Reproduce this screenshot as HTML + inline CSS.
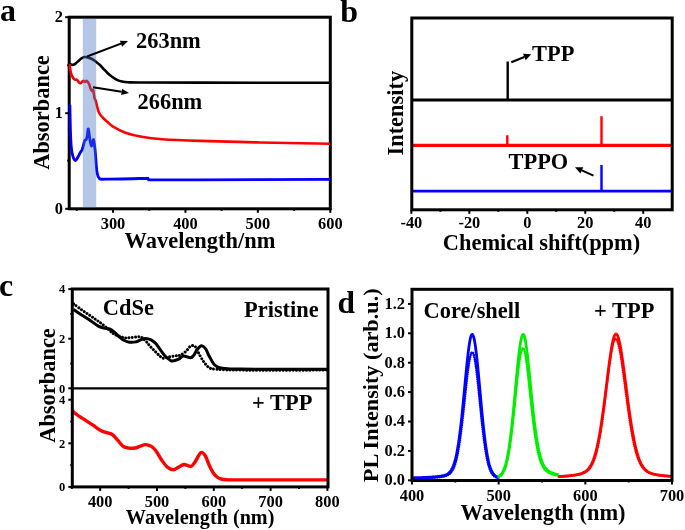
<!DOCTYPE html>
<html><head><meta charset="utf-8"><style>
html,body{margin:0;padding:0;background:#fff;width:685px;height:530px;overflow:hidden}
svg{display:block;will-change:transform}
text{font-family:"Liberation Serif",serif;font-weight:bold;fill:#000}
</style></head><body>
<svg width="685" height="530" viewBox="0 0 685 530">
<rect width="685" height="530" fill="#fff"/>
<text transform="translate(0 20.5) scale(1 1)" font-size="32" text-anchor="start">a</text>
<rect x="69.2" y="17.2" width="261.1" height="191.60000000000002" fill="none" stroke="#000" stroke-width="3"/>
<path d="M69.50,63.50 C69.78,63.68 70.58,64.38 71.20,64.60 C71.82,64.82 72.48,64.97 73.20,64.80 C73.92,64.63 74.62,64.23 75.50,63.60 C76.38,62.97 77.50,61.87 78.50,61.00 C79.50,60.13 80.50,59.07 81.50,58.40 C82.50,57.73 83.42,57.17 84.50,57.00 C85.58,56.83 86.75,57.07 88.00,57.40 C89.25,57.73 90.67,58.27 92.00,59.00 C93.33,59.73 94.67,60.80 96.00,61.80 C97.33,62.80 98.75,63.83 100.00,65.00 C101.25,66.17 102.25,67.47 103.50,68.80 C104.75,70.13 106.08,71.68 107.50,73.00 C108.92,74.32 110.42,75.57 112.00,76.70 C113.58,77.83 115.33,79.00 117.00,79.80 C118.67,80.60 120.17,81.08 122.00,81.50 C123.83,81.92 125.00,82.13 128.00,82.30 C131.00,82.47 128.00,82.45 140.00,82.50 C152.00,82.55 168.33,82.55 200.00,82.60 C231.67,82.65 308.33,82.77 330.00,82.80" fill="none" stroke="#000" stroke-width="2.6"/>
<path d="M69.50,64.00 C69.78,65.67 70.40,71.45 71.20,74.00 C72.00,76.55 73.33,78.33 74.30,79.30 C75.27,80.27 76.25,79.30 77.00,79.80 C77.75,80.30 78.20,81.72 78.80,82.30 C79.40,82.88 80.02,83.42 80.60,83.30 C81.18,83.18 81.82,82.00 82.30,81.60 C82.78,81.20 83.05,80.85 83.50,80.90 C83.95,80.95 84.48,81.90 85.00,81.90 C85.52,81.90 86.12,80.85 86.60,80.90 C87.08,80.95 87.47,81.65 87.90,82.20 C88.33,82.75 88.75,83.10 89.20,84.20 C89.65,85.30 90.15,87.70 90.60,88.80 C91.05,89.90 91.47,90.55 91.90,90.80 C92.33,91.05 92.77,89.10 93.20,90.30 C93.63,91.50 94.07,96.22 94.50,98.00 C94.93,99.78 95.08,98.62 95.80,101.00 C96.52,103.38 97.63,109.53 98.80,112.30 C99.97,115.07 101.43,116.07 102.80,117.60 C104.17,119.13 105.28,120.00 107.00,121.50 C108.72,123.00 110.03,124.73 113.10,126.60 C116.17,128.47 120.62,131.00 125.40,132.70 C130.18,134.40 135.67,135.72 141.80,136.80 C147.93,137.88 152.50,138.52 162.20,139.20 C171.90,139.88 183.70,140.35 200.00,140.90 C216.30,141.45 238.33,142.03 260.00,142.50 C281.67,142.97 318.33,143.50 330.00,143.70" fill="none" stroke="#ff0000" stroke-width="2.6"/>
<path d="M69.90,104.80 C69.98,108.83 70.18,122.13 70.40,129.00 C70.62,135.87 70.80,141.50 71.20,146.00 C71.60,150.50 72.07,153.58 72.80,156.00 C73.53,158.42 74.70,160.42 75.60,160.50 C76.50,160.58 77.42,157.83 78.20,156.50 C78.98,155.17 79.63,153.67 80.30,152.50 C80.97,151.33 81.65,150.83 82.20,149.50 C82.75,148.17 83.17,146.03 83.60,144.50 C84.03,142.97 84.35,141.13 84.80,140.30 C85.25,139.47 85.87,140.38 86.30,139.50 C86.73,138.62 87.05,136.75 87.40,135.00 C87.75,133.25 87.95,128.02 88.40,129.00 C88.85,129.98 89.53,138.07 90.10,140.90 C90.67,143.73 91.23,146.22 91.80,146.00 C92.37,145.78 92.93,138.75 93.50,139.60 C94.07,140.45 94.63,145.78 95.20,151.10 C95.77,156.42 96.20,166.97 96.90,171.50 C97.60,176.03 97.85,177.02 99.40,178.30 C100.95,179.58 98.12,179.20 106.20,179.20 C114.28,179.20 140.95,178.45 147.90,178.30 L148.6,179.9 L200,179.9 L330,179.4" fill="none" stroke="#0000ff" stroke-width="2.8"/>
<rect x="82.8" y="18.7" width="13.4" height="188.60000000000002" fill="#4472c4" fill-opacity="0.4"/>
<line x1="69.2" y1="208.8" x2="65.2" y2="208.8" stroke="#000" stroke-width="2"/>
<text transform="translate(63 213.70000000000002) scale(1 1.03)" font-size="16.4" text-anchor="end">0</text>
<line x1="69.2" y1="113.2" x2="65.2" y2="113.2" stroke="#000" stroke-width="2"/>
<text transform="translate(63 118.10000000000001) scale(1 1.03)" font-size="16.4" text-anchor="end">1</text>
<line x1="69.2" y1="17.2" x2="65.2" y2="17.2" stroke="#000" stroke-width="2"/>
<text transform="translate(63 22.1) scale(1 1.03)" font-size="16.4" text-anchor="end">2</text>
<line x1="69.2" y1="65.3" x2="67.2" y2="65.3" stroke="#000" stroke-width="2"/>
<line x1="69.2" y1="160.6" x2="67.2" y2="160.6" stroke="#000" stroke-width="2"/>
<line x1="113.0" y1="208.8" x2="113.0" y2="212.8" stroke="#000" stroke-width="2"/>
<text transform="translate(113.0 228.5) scale(1 1.03)" font-size="16.4" text-anchor="middle">300</text>
<line x1="185.43" y1="208.8" x2="185.43" y2="212.8" stroke="#000" stroke-width="2"/>
<text transform="translate(185.43 228.5) scale(1 1.03)" font-size="16.4" text-anchor="middle">400</text>
<line x1="257.86" y1="208.8" x2="257.86" y2="212.8" stroke="#000" stroke-width="2"/>
<text transform="translate(257.86 228.5) scale(1 1.03)" font-size="16.4" text-anchor="middle">500</text>
<line x1="330.29" y1="208.8" x2="330.29" y2="212.8" stroke="#000" stroke-width="2"/>
<text transform="translate(330.29 228.5) scale(1 1.03)" font-size="16.4" text-anchor="middle">600</text>
<line x1="76.785" y1="208.8" x2="76.785" y2="210.8" stroke="#000" stroke-width="2"/>
<line x1="149.215" y1="208.8" x2="149.215" y2="210.8" stroke="#000" stroke-width="2"/>
<line x1="221.645" y1="208.8" x2="221.645" y2="210.8" stroke="#000" stroke-width="2"/>
<line x1="294.07500000000005" y1="208.8" x2="294.07500000000005" y2="210.8" stroke="#000" stroke-width="2"/>
<text transform="translate(200 248.2) scale(1.02 1.07)" font-size="22" text-anchor="middle">Wavelength/nm</text>
<text transform="translate(48.5 112.5) rotate(-90) scale(1.02 1.07)" font-size="22" text-anchor="middle">Absorbance</text>
<line x1="87" y1="56.5" x2="120.98" y2="43.65" stroke="#000" stroke-width="2"/>
<polygon points="128,41 122.12,46.65 119.85,40.66" fill="#000"/>
<line x1="93" y1="87.3" x2="121.59" y2="91.83" stroke="#000" stroke-width="2"/>
<polygon points="129,93 121.09,94.99 122.09,88.67" fill="#000"/>
<text transform="translate(136 48.3) scale(1.02 1.07)" font-size="22" text-anchor="start">263nm</text>
<text transform="translate(137.5 109.3) scale(1.02 1.07)" font-size="22" text-anchor="start">266nm</text>
<text transform="translate(340.2 21.5) scale(1 1)" font-size="32" text-anchor="start">b</text>
<path d="M411.8,100 L672.2,100" fill="none" stroke="#000" stroke-width="3"/><path d="M507.7,100 L507.7,61.5" fill="none" stroke="#000" stroke-width="2.4"/>
<path d="M411.8,145.3 L672.2,145.3" fill="none" stroke="#ff0000" stroke-width="3.2"/><path d="M507.3,145.3 L507.3,135.2 M601.5,145.3 L601.5,116.3" fill="none" stroke="#ff0000" stroke-width="2.4"/>
<path d="M411.8,191.1 L672.2,191.1" fill="none" stroke="#0000ff" stroke-width="2.8"/><path d="M601.5,191.1 L601.5,165" fill="none" stroke="#0000ff" stroke-width="2.4"/>
<rect x="411.8" y="18" width="260.40000000000003" height="191.8" fill="none" stroke="#000" stroke-width="3"/>
<line x1="411.37999999999994" y1="209.8" x2="411.37999999999994" y2="213.8" stroke="#000" stroke-width="2"/>
<text transform="translate(411.37999999999994 228) scale(1 1.03)" font-size="16.4" text-anchor="middle">-40</text>
<line x1="469.34" y1="209.8" x2="469.34" y2="213.8" stroke="#000" stroke-width="2"/>
<text transform="translate(469.34 228) scale(1 1.03)" font-size="16.4" text-anchor="middle">-20</text>
<line x1="527.3" y1="209.8" x2="527.3" y2="213.8" stroke="#000" stroke-width="2"/>
<text transform="translate(527.3 228) scale(1 1.03)" font-size="16.4" text-anchor="middle">0</text>
<line x1="585.26" y1="209.8" x2="585.26" y2="213.8" stroke="#000" stroke-width="2"/>
<text transform="translate(585.26 228) scale(1 1.03)" font-size="16.4" text-anchor="middle">20</text>
<line x1="643.2199999999999" y1="209.8" x2="643.2199999999999" y2="213.8" stroke="#000" stroke-width="2"/>
<text transform="translate(643.2199999999999 228) scale(1 1.03)" font-size="16.4" text-anchor="middle">40</text>
<line x1="440.35999999999996" y1="209.8" x2="440.35999999999996" y2="211.8" stroke="#000" stroke-width="2"/>
<line x1="498.31999999999994" y1="209.8" x2="498.31999999999994" y2="211.8" stroke="#000" stroke-width="2"/>
<line x1="556.28" y1="209.8" x2="556.28" y2="211.8" stroke="#000" stroke-width="2"/>
<line x1="614.24" y1="209.8" x2="614.24" y2="211.8" stroke="#000" stroke-width="2"/>
<text transform="translate(541.5 249.5) scale(1.02 1.07)" font-size="22" text-anchor="middle">Chemical shift(ppm)</text>
<text transform="translate(403 113.2) rotate(-90) scale(1.02 1.07)" font-size="22" text-anchor="middle">Intensity</text>
<line x1="511.3" y1="62.2" x2="524.34" y2="56.99" stroke="#000" stroke-width="2"/>
<polygon points="531.3,54.2 525.64,60.24 523.04,53.74" fill="#000"/>
<text transform="translate(532 60.7) scale(1.02 1.07)" font-size="22" text-anchor="start">TPP</text>
<line x1="593.5" y1="175.7" x2="581.82" y2="170.33" stroke="#000" stroke-width="2"/>
<polygon points="575,167.2 583.28,167.15 580.35,173.51" fill="#000"/>
<text transform="translate(508.5 168.6) scale(1.02 1.07)" font-size="22" text-anchor="start">TPPO</text>
<text transform="translate(-1 296) scale(1 1)" font-size="32" text-anchor="start">c</text>
<path d="M73.50,303.80 C74.80,304.77 78.73,307.77 81.30,309.60 C83.87,311.43 86.38,313.07 88.90,314.80 C91.42,316.53 94.05,318.35 96.40,320.00 C98.75,321.65 100.80,322.97 103.00,324.70 C105.20,326.43 107.87,328.90 109.60,330.40 C111.33,331.90 111.83,332.73 113.40,333.70 C114.97,334.67 116.95,335.50 119.00,336.20 C121.05,336.90 123.65,337.68 125.70,337.90 C127.75,338.12 129.10,337.68 131.30,337.50 C133.50,337.32 137.02,336.73 138.90,336.80 C140.78,336.87 141.35,337.08 142.60,337.90 C143.85,338.72 145.13,340.28 146.40,341.70 C147.67,343.12 148.78,344.83 150.20,346.40 C151.62,347.97 153.33,349.53 154.90,351.10 C156.47,352.67 158.18,354.62 159.60,355.80 C161.02,356.98 161.83,358.03 163.40,358.20 C164.97,358.37 166.80,357.20 169.00,356.80 C171.20,356.40 174.77,356.07 176.60,355.80 C178.43,355.53 178.48,355.90 180.00,355.20 C181.52,354.50 183.97,353.07 185.70,351.60 C187.43,350.13 188.85,347.27 190.40,346.40 C191.95,345.53 193.45,344.95 195.00,346.40 C196.55,347.85 198.13,352.38 199.70,355.10 C201.27,357.82 202.85,360.65 204.40,362.70 C205.95,364.75 207.25,366.33 209.00,367.40 C210.75,368.47 209.73,368.65 214.90,369.10 C220.07,369.55 221.15,369.93 240.00,370.10 C258.85,370.27 313.33,370.10 328.00,370.10" fill="none" stroke="#000" stroke-width="3" stroke-linecap="round" stroke-dasharray="0.01 3.3"/>
<path d="M73.50,309.40 C74.48,310.07 76.83,311.72 79.40,313.40 C81.97,315.08 85.75,317.38 88.90,319.50 C92.05,321.62 95.78,324.68 98.30,326.10 C100.82,327.52 102.12,327.52 104.00,328.00 C105.88,328.48 108.03,328.45 109.60,329.00 C111.17,329.55 111.83,330.05 113.40,331.30 C114.97,332.55 117.27,335.00 119.00,336.50 C120.73,338.00 122.07,339.35 123.80,340.30 C125.53,341.25 127.37,341.93 129.40,342.20 C131.43,342.47 134.10,342.30 136.00,341.90 C137.90,341.50 139.22,340.38 140.80,339.80 C142.38,339.22 143.78,338.40 145.50,338.40 C147.22,338.40 149.38,338.93 151.10,339.80 C152.82,340.67 154.22,341.87 155.80,343.60 C157.38,345.33 159.02,348.08 160.60,350.20 C162.18,352.32 163.73,354.65 165.30,356.30 C166.87,357.95 168.75,359.32 170.00,360.10 C171.25,360.88 171.35,361.15 172.80,361.00 C174.25,360.85 176.93,360.05 178.70,359.20 C180.47,358.35 181.45,356.13 183.40,355.90 C185.35,355.67 188.65,357.93 190.40,357.80 C192.15,357.67 192.73,356.52 193.90,355.10 C195.07,353.68 196.13,350.85 197.40,349.30 C198.67,347.75 200.15,345.90 201.50,345.80 C202.85,345.70 204.25,347.05 205.50,348.70 C206.75,350.35 207.63,353.17 209.00,355.70 C210.37,358.23 212.13,361.95 213.70,363.90 C215.27,365.85 216.45,366.63 218.40,367.40 C220.35,368.17 221.80,368.22 225.40,368.50 C229.00,368.78 222.90,368.97 240.00,369.10 C257.10,369.23 313.33,369.27 328.00,369.30" fill="none" stroke="#000" stroke-width="3"/>
<path d="M72.80,410.00 C72.90,410.32 71.98,410.63 73.40,411.90 C74.82,413.17 78.10,415.43 81.30,417.60 C84.50,419.77 89.20,422.65 92.60,424.90 C96.00,427.15 98.87,429.68 101.70,431.10 C104.53,432.52 107.72,432.73 109.60,433.40 C111.48,434.07 111.67,433.97 113.00,435.10 C114.33,436.23 115.90,438.32 117.60,440.20 C119.30,442.08 121.32,445.08 123.20,446.40 C125.08,447.72 126.93,447.83 128.90,448.10 C130.87,448.37 133.20,448.28 135.00,448.00 C136.80,447.72 137.95,446.97 139.70,446.40 C141.45,445.83 143.55,444.60 145.50,444.60 C147.45,444.60 149.65,445.33 151.40,446.40 C153.15,447.47 154.25,448.67 156.00,451.00 C157.75,453.33 159.95,457.67 161.90,460.40 C163.85,463.13 165.77,465.85 167.70,467.40 C169.63,468.95 171.75,469.70 173.50,469.70 C175.25,469.70 176.43,468.27 178.20,467.40 C179.97,466.53 182.00,464.67 184.10,464.50 C186.20,464.33 188.98,466.82 190.80,466.40 C192.62,465.98 193.33,464.30 195.00,462.00 C196.67,459.70 199.12,453.68 200.80,452.60 C202.48,451.52 203.62,453.23 205.10,455.50 C206.58,457.77 208.35,463.32 209.70,466.20 C211.05,469.08 211.98,471.00 213.20,472.80 C214.42,474.60 215.70,475.97 217.00,477.00 C218.30,478.03 219.33,478.53 221.00,479.00 C222.67,479.47 223.83,479.65 227.00,479.80 C230.17,479.95 223.17,479.88 240.00,479.90 C256.83,479.92 313.33,479.90 328.00,479.90" fill="none" stroke="#ff0000" stroke-width="3.4"/>
<rect x="72.3" y="289" width="255.7" height="197.89999999999998" fill="none" stroke="#000" stroke-width="3"/>
<line x1="72.3" y1="388.3" x2="328" y2="388.3" stroke="#000" stroke-width="2.2"/>
<line x1="72.3" y1="388.3" x2="68.3" y2="388.3" stroke="#000" stroke-width="2"/>
<text transform="translate(65.3 392.5) scale(1 1.07)" font-size="12.5" text-anchor="end">0</text>
<line x1="72.3" y1="338.7" x2="68.3" y2="338.7" stroke="#000" stroke-width="2"/>
<text transform="translate(65.3 342.9) scale(1 1.07)" font-size="12.5" text-anchor="end">2</text>
<line x1="72.3" y1="289.1" x2="68.3" y2="289.1" stroke="#000" stroke-width="2"/>
<text transform="translate(65.3 293.3) scale(1 1.07)" font-size="12.5" text-anchor="end">4</text>
<line x1="72.3" y1="363.5" x2="70.3" y2="363.5" stroke="#000" stroke-width="2"/>
<line x1="72.3" y1="313.9" x2="70.3" y2="313.9" stroke="#000" stroke-width="2"/>
<line x1="72.3" y1="486.9" x2="68.3" y2="486.9" stroke="#000" stroke-width="2"/>
<text transform="translate(65.3 491.09999999999997) scale(1 1.07)" font-size="12.5" text-anchor="end">0</text>
<line x1="72.3" y1="443.29999999999995" x2="68.3" y2="443.29999999999995" stroke="#000" stroke-width="2"/>
<text transform="translate(65.3 447.49999999999994) scale(1 1.07)" font-size="12.5" text-anchor="end">2</text>
<line x1="72.3" y1="399.7" x2="68.3" y2="399.7" stroke="#000" stroke-width="2"/>
<text transform="translate(65.3 403.9) scale(1 1.07)" font-size="12.5" text-anchor="end">4</text>
<line x1="72.3" y1="465.09999999999997" x2="70.3" y2="465.09999999999997" stroke="#000" stroke-width="2"/>
<line x1="72.3" y1="421.5" x2="70.3" y2="421.5" stroke="#000" stroke-width="2"/>
<line x1="100.2" y1="486.9" x2="100.2" y2="490.9" stroke="#000" stroke-width="2"/>
<text transform="translate(100.2 506.6) scale(1 1.03)" font-size="16.4" text-anchor="middle">400</text>
<line x1="157.0" y1="486.9" x2="157.0" y2="490.9" stroke="#000" stroke-width="2"/>
<text transform="translate(157.0 506.6) scale(1 1.03)" font-size="16.4" text-anchor="middle">500</text>
<line x1="213.8" y1="486.9" x2="213.8" y2="490.9" stroke="#000" stroke-width="2"/>
<text transform="translate(213.8 506.6) scale(1 1.03)" font-size="16.4" text-anchor="middle">600</text>
<line x1="270.59999999999997" y1="486.9" x2="270.59999999999997" y2="490.9" stroke="#000" stroke-width="2"/>
<text transform="translate(270.59999999999997 506.6) scale(1 1.03)" font-size="16.4" text-anchor="middle">700</text>
<line x1="327.4" y1="486.9" x2="327.4" y2="490.9" stroke="#000" stroke-width="2"/>
<text transform="translate(327.4 506.6) scale(1 1.03)" font-size="16.4" text-anchor="middle">800</text>
<line x1="71.80000000000001" y1="486.9" x2="71.80000000000001" y2="488.9" stroke="#000" stroke-width="2"/>
<line x1="128.6" y1="486.9" x2="128.6" y2="488.9" stroke="#000" stroke-width="2"/>
<line x1="185.39999999999998" y1="486.9" x2="185.39999999999998" y2="488.9" stroke="#000" stroke-width="2"/>
<line x1="242.2" y1="486.9" x2="242.2" y2="488.9" stroke="#000" stroke-width="2"/>
<line x1="299.0" y1="486.9" x2="299.0" y2="488.9" stroke="#000" stroke-width="2"/>
<text transform="translate(200.1 523.6) scale(1.02 1.07)" font-size="19.8" text-anchor="middle">Wavelength (nm)</text>
<text transform="translate(55 385.5) rotate(-90) scale(1.02 1.07)" font-size="22" text-anchor="middle">Absorbance</text>
<text transform="translate(102.8 314.7) scale(1.02 1.07)" font-size="22" text-anchor="start">CdSe</text>
<text transform="translate(244 317.2) scale(1.02 1.07)" font-size="22" text-anchor="start">Pristine</text>
<text transform="translate(252 409.5) scale(1.02 1.07)" font-size="22" text-anchor="start">+ TPP</text>
<text transform="translate(337.6 313.2) scale(0.98 1)" font-size="32" text-anchor="start">d</text>
<path d="M413.00,477.80 L413.50,477.78 L414.00,477.77 L414.50,477.76 L415.00,477.75 L415.50,477.73 L416.00,477.72 L416.50,477.71 L417.00,477.69 L417.50,477.68 L418.00,477.66 L418.50,477.65 L419.00,477.63 L419.50,477.62 L420.00,477.60 L420.50,477.58 L421.00,477.57 L421.50,477.55 L422.00,477.53 L422.50,477.51 L423.00,477.49 L423.50,477.47 L424.00,477.45 L424.50,477.43 L425.00,477.41 L425.50,477.38 L426.00,477.36 L426.50,477.34 L427.00,477.31 L427.50,477.29 L428.00,477.26 L428.50,477.23 L429.00,477.21 L429.50,477.18 L430.00,477.15 L430.50,477.11 L431.00,477.08 L431.50,477.05 L432.00,477.01 L432.50,476.98 L433.00,476.94 L433.50,476.90 L434.00,476.86 L434.50,476.82 L435.00,476.78 L435.50,476.73 L436.00,476.69 L436.50,476.64 L437.00,476.59 L437.50,476.53 L438.00,476.48 L438.50,476.42 L439.00,476.35 L439.50,476.29 L440.00,476.22 L440.50,476.14 L441.00,476.06 L441.50,475.98 L442.00,475.88 L442.50,475.78 L443.00,475.67 L443.50,475.55 L444.00,475.42 L444.50,475.27 L445.00,475.11 L445.50,474.93 L446.00,474.72 L446.50,474.49 L447.00,474.23 L447.50,473.94 L448.00,473.61 L448.50,473.24 L449.00,472.81 L449.50,472.33 L450.00,471.79 L450.50,471.17 L451.00,470.47 L451.50,469.69 L452.00,468.80 L452.50,467.80 L453.00,466.68 L453.50,465.43 L454.00,464.03 L454.50,462.47 L455.00,460.75 L455.50,458.85 L456.00,456.76 L456.50,454.46 L457.00,451.96 L457.50,449.24 L458.00,446.29 L458.50,443.12 L459.00,439.71 L459.50,436.08 L460.00,432.21 L460.50,428.12 L461.00,423.81 L461.50,419.30 L462.00,414.61 L462.50,409.74 L463.00,404.73 L463.50,399.60 L464.00,394.38 L464.50,389.11 L465.00,383.82 L465.50,378.55 L466.00,373.35 L466.50,368.27 L467.00,363.35 L467.50,358.64 L468.00,354.21 L468.50,350.10 L469.00,346.36 L469.50,343.06 L470.00,340.23 L470.50,337.92 L471.00,336.17 L471.50,335.01 L472.00,334.45 L472.50,334.51 L473.00,335.17 L473.50,336.42 L474.00,338.25 L474.50,340.63 L475.00,343.52 L475.50,346.90 L476.00,350.72 L476.50,354.93 L477.00,359.48 L477.50,364.33 L478.00,369.41 L478.50,374.69 L479.00,380.10 L479.50,385.60 L480.00,391.13 L480.50,396.66 L481.00,402.13 L481.50,407.52 L482.00,412.78 L482.50,417.88 L483.00,422.80 L483.50,427.52 L484.00,432.01 L484.50,436.26 L485.00,440.26 L485.50,444.01 L486.00,447.50 L486.50,450.74 L487.00,453.72 L487.50,456.46 L488.00,458.95 L488.50,461.22 L489.00,463.27 L489.50,465.11 L490.00,466.76 L490.50,468.23 L491.00,469.53 L491.50,470.69 L492.00,471.70 L492.50,472.59 L493.00,473.36 L493.50,474.03 L494.00,474.62 L494.50,475.12 L495.00,475.55 L495.50,475.92 L496.00,476.24 L496.50,476.51 L497.00,476.74 L497.50,476.93 L498.00,477.10 L498.50,477.24" fill="none" stroke="#0000ff" stroke-width="2.8" stroke-linejoin="round"/>
<path d="M498.60,476.22 L499.10,475.94 L499.60,475.60 L500.10,475.21 L500.60,474.76 L501.10,474.24 L501.60,473.64 L502.10,472.95 L502.60,472.16 L503.10,471.25 L503.60,470.23 L504.10,469.07 L504.60,467.76 L505.10,466.30 L505.60,464.66 L506.10,462.83 L506.60,460.81 L507.10,458.57 L507.60,456.12 L508.10,453.44 L508.60,450.52 L509.10,447.36 L509.60,443.96 L510.10,440.31 L510.60,436.42 L511.10,432.29 L511.60,427.94 L512.10,423.36 L512.60,418.59 L513.10,413.64 L513.60,408.53 L514.10,403.30 L514.60,397.97 L515.10,392.58 L515.60,387.17 L516.10,381.78 L516.60,376.46 L517.10,371.25 L517.60,366.20 L518.10,361.37 L518.60,356.79 L519.10,352.52 L519.60,348.60 L520.10,345.08 L520.60,342.01 L521.10,339.42 L521.60,337.34 L522.10,335.80 L522.60,334.82 L523.10,334.41 L523.60,334.61 L524.10,335.47 L524.60,336.97 L525.10,339.08 L525.60,341.75 L526.10,344.93 L526.60,348.56 L527.10,352.59 L527.60,356.94 L528.10,361.56 L528.60,366.38 L529.10,371.35 L529.60,376.42 L530.10,381.53 L530.60,386.65 L531.10,391.73 L531.60,396.74 L532.10,401.66 L532.60,406.45 L533.10,411.09 L533.60,415.57 L534.10,419.87 L534.60,423.98 L535.10,427.88 L535.60,431.58 L536.10,435.07 L536.60,438.35 L537.10,441.42 L537.60,444.28 L538.10,446.94 L538.60,449.40 L539.10,451.67 L539.60,453.76 L540.10,455.68 L540.60,457.44 L541.10,459.04 L541.60,460.50 L542.10,461.82 L542.60,463.03 L543.10,464.12 L543.60,465.10 L544.10,465.99 L544.60,466.80 L545.10,467.52 L545.60,468.18 L546.10,468.78 L546.60,469.31 L547.10,469.80 L547.60,470.24 L548.10,470.64 L548.60,471.01 L549.10,471.34 L549.60,471.65 L550.10,471.93 L550.60,472.19 L551.10,472.43 L551.60,472.65 L552.10,472.86 L552.60,473.06 L553.10,473.24 L553.60,473.41 L554.10,473.57 L554.60,473.72 L555.10,473.87 L555.60,474.00 L556.10,474.13 L556.60,474.26 L557.10,474.37 L557.60,474.49 L558.10,474.60 L558.60,474.70" fill="none" stroke="#00ee00" stroke-width="2.8" stroke-linejoin="round"/>
<path d="M559.00,476.49 L559.50,476.47 L560.00,476.44 L560.50,476.41 L561.00,476.37 L561.50,476.34 L562.00,476.31 L562.50,476.28 L563.00,476.24 L563.50,476.20 L564.00,476.17 L564.50,476.13 L565.00,476.09 L565.50,476.05 L566.00,476.01 L566.50,475.97 L567.00,475.93 L567.50,475.88 L568.00,475.84 L568.50,475.79 L569.00,475.74 L569.50,475.69 L570.00,475.64 L570.50,475.58 L571.00,475.53 L571.50,475.47 L572.00,475.41 L572.50,475.35 L573.00,475.28 L573.50,475.21 L574.00,475.14 L574.50,475.07 L575.00,474.99 L575.50,474.91 L576.00,474.83 L576.50,474.74 L577.00,474.64 L577.50,474.54 L578.00,474.44 L578.50,474.32 L579.00,474.20 L579.50,474.07 L580.00,473.94 L580.50,473.79 L581.00,473.63 L581.50,473.46 L582.00,473.28 L582.50,473.08 L583.00,472.86 L583.50,472.62 L584.00,472.37 L584.50,472.09 L585.00,471.78 L585.50,471.45 L586.00,471.08 L586.50,470.68 L587.00,470.25 L587.50,469.77 L588.00,469.25 L588.50,468.69 L589.00,468.07 L589.50,467.39 L590.00,466.66 L590.50,465.85 L591.00,464.98 L591.50,464.03 L592.00,463.01 L592.50,461.89 L593.00,460.69 L593.50,459.39 L594.00,457.99 L594.50,456.49 L595.00,454.87 L595.50,453.15 L596.00,451.30 L596.50,449.33 L597.00,447.24 L597.50,445.02 L598.00,442.66 L598.50,440.18 L599.00,437.56 L599.50,434.81 L600.00,431.93 L600.50,428.92 L601.00,425.78 L601.50,422.52 L602.00,419.14 L602.50,415.65 L603.00,412.05 L603.50,408.36 L604.00,404.58 L604.50,400.72 L605.00,396.81 L605.50,392.84 L606.00,388.84 L606.50,384.82 L607.00,380.80 L607.50,376.80 L608.00,372.84 L608.50,368.94 L609.00,365.12 L609.50,361.41 L610.00,357.83 L610.50,354.41 L611.00,351.17 L611.50,348.14 L612.00,345.34 L612.50,342.80 L613.00,340.54 L613.50,338.59 L614.00,336.96 L614.50,335.68 L615.00,334.75 L615.50,334.19 L616.00,334.00 L616.50,334.18 L617.00,334.70 L617.50,335.57 L618.00,336.78 L618.50,338.31 L619.00,340.14 L619.50,342.27 L620.00,344.67 L620.50,347.31 L621.00,350.18 L621.50,353.25 L622.00,356.51 L622.50,359.92 L623.00,363.46 L623.50,367.11 L624.00,370.85 L624.50,374.66 L625.00,378.51 L625.50,382.39 L626.00,386.29 L626.50,390.17 L627.00,394.04 L627.50,397.87 L628.00,401.65 L628.50,405.36 L629.00,409.01 L629.50,412.57 L630.00,416.04 L630.50,419.41 L631.00,422.68 L631.50,425.83 L632.00,428.87 L632.50,431.79 L633.00,434.59 L633.50,437.26 L634.00,439.81 L634.50,442.24 L635.00,444.54 L635.50,446.72 L636.00,448.78 L636.50,450.72 L637.00,452.54 L637.50,454.26 L638.00,455.86 L638.50,457.36 L639.00,458.76 L639.50,460.06 L640.00,461.27 L640.50,462.40 L641.00,463.44 L641.50,464.40 L642.00,465.29 L642.50,466.12 L643.00,466.87 L643.50,467.57 L644.00,468.21 L644.50,468.80 L645.00,469.34 L645.50,469.84 L646.00,470.29 L646.50,470.71 L647.00,471.09 L647.50,471.45 L648.00,471.77 L648.50,472.07 L649.00,472.34 L649.50,472.59 L650.00,472.82 L650.50,473.04 L651.00,473.23 L651.50,473.41 L652.00,473.58 L652.50,473.74 L653.00,473.89 L653.50,474.02 L654.00,474.15 L654.50,474.27 L655.00,474.38 L655.50,474.49 L656.00,474.59 L656.50,474.68 L657.00,474.77 L657.50,474.86 L658.00,474.94 L658.50,475.01 L659.00,475.09 L659.50,475.16 L660.00,475.23 L660.50,475.29 L661.00,475.35 L661.50,475.41 L662.00,475.47 L662.50,475.53 L663.00,475.58 L663.50,475.63 L664.00,475.69 L664.50,475.73 L665.00,475.78 L665.50,475.83 L666.00,475.87 L666.50,475.92 L667.00,475.96 L667.50,476.00 L668.00,476.04 L668.50,476.08 L669.00,476.12 L669.50,476.15 L670.00,476.19 L670.50,476.22 L671.00,476.26" fill="none" stroke="#ff0000" stroke-width="2.8" stroke-linejoin="round"/>
<path d="M413.00,478.40 L413.50,478.39 L414.00,478.38 L414.50,478.37 L415.00,478.36 L415.50,478.35 L416.00,478.34 L416.50,478.33 L417.00,478.31 L417.50,478.30 L418.00,478.29 L418.50,478.28 L419.00,478.26 L419.50,478.25 L420.00,478.24 L420.50,478.22 L421.00,478.21 L421.50,478.19 L422.00,478.18 L422.50,478.16 L423.00,478.14 L423.50,478.13 L424.00,478.11 L424.50,478.09 L425.00,478.07 L425.50,478.05 L426.00,478.03 L426.50,478.01 L427.00,477.99 L427.50,477.97 L428.00,477.95 L428.50,477.92 L429.00,477.90 L429.50,477.87 L430.00,477.85 L430.50,477.82 L431.00,477.80 L431.50,477.77 L432.00,477.74 L432.50,477.71 L433.00,477.68 L433.50,477.64 L434.00,477.61 L434.50,477.57 L435.00,477.54 L435.50,477.50 L436.00,477.46 L436.50,477.42 L437.00,477.37 L437.50,477.33 L438.00,477.28 L438.50,477.23 L439.00,477.18 L439.50,477.12 L440.00,477.07 L440.50,477.00 L441.00,476.94 L441.50,476.86 L442.00,476.79 L442.50,476.71 L443.00,476.62 L443.50,476.52 L444.00,476.41 L444.50,476.29 L445.00,476.16 L445.50,476.01 L446.00,475.85 L446.50,475.67 L447.00,475.46 L447.50,475.22 L448.00,474.96 L448.50,474.66 L449.00,474.32 L449.50,473.93 L450.00,473.49 L450.50,472.99 L451.00,472.42 L451.50,471.78 L452.00,471.05 L452.50,470.23 L453.00,469.31 L453.50,468.27 L454.00,467.11 L454.50,465.81 L455.00,464.36 L455.50,462.76 L456.00,460.99 L456.50,459.04 L457.00,456.91 L457.50,454.58 L458.00,452.04 L458.50,449.31 L459.00,446.36 L459.50,443.19 L460.00,439.82 L460.50,436.24 L461.00,432.47 L461.50,428.50 L462.00,424.35 L462.50,420.04 L463.00,415.60 L463.50,411.03 L464.00,406.38 L464.50,401.66 L465.00,396.92 L465.50,392.19 L466.00,387.51 L466.50,382.93 L467.00,378.48 L467.50,374.23 L468.00,370.21 L468.50,366.48 L469.00,363.09 L469.50,360.08 L470.00,357.51 L470.50,355.40 L471.00,353.81 L471.50,352.74 L472.00,352.24 L472.50,352.29 L473.00,352.90 L473.50,354.05 L474.00,355.73 L474.50,357.91 L475.00,360.57 L475.50,363.66 L476.00,367.15 L476.50,371.00 L477.00,375.15 L477.50,379.56 L478.00,384.19 L478.50,388.97 L479.00,393.86 L479.50,398.82 L480.00,403.80 L480.50,408.76 L481.00,413.66 L481.50,418.46 L482.00,423.14 L482.50,427.66 L483.00,432.00 L483.50,436.14 L484.00,440.08 L484.50,443.78 L485.00,447.26 L485.50,450.49 L486.00,453.50 L486.50,456.26 L487.00,458.80 L487.50,461.12 L488.00,463.22 L488.50,465.12 L489.00,466.82 L489.50,468.35 L490.00,469.70 L490.50,470.91 L491.00,471.97 L491.50,472.90 L492.00,473.71 L492.50,474.42 L493.00,475.03 L493.50,475.56 L494.00,476.01 L494.50,476.40 L495.00,476.74 L495.50,477.02 L496.00,477.26 L496.50,477.47 L497.00,477.64 L497.50,477.78 L498.00,477.91 L498.50,478.01" fill="none" stroke="#0000ff" stroke-width="2.6" stroke-linecap="round" stroke-dasharray="0.01 2.2"/>
<path d="M498.60,477.08 L499.10,476.84 L499.60,476.56 L500.10,476.23 L500.60,475.85 L501.10,475.40 L501.60,474.88 L502.10,474.29 L502.60,473.60 L503.10,472.82 L503.60,471.92 L504.10,470.90 L504.60,469.74 L505.10,468.44 L505.60,466.98 L506.10,465.35 L506.60,463.53 L507.10,461.52 L507.60,459.30 L508.10,456.87 L508.60,454.21 L509.10,451.33 L509.60,448.22 L510.10,444.87 L510.60,441.30 L511.10,437.49 L511.60,433.47 L512.10,429.25 L512.60,424.83 L513.10,420.24 L513.60,415.51 L514.10,410.65 L514.60,405.71 L515.10,400.71 L515.60,395.69 L516.10,390.69 L516.60,385.77 L517.10,380.95 L517.60,376.30 L518.10,371.85 L518.60,367.65 L519.10,363.76 L519.60,360.21 L520.10,357.05 L520.60,354.32 L521.10,352.06 L521.60,350.29 L522.10,349.04 L522.60,348.33 L523.10,348.17 L523.60,348.61 L524.10,349.67 L524.60,351.32 L525.10,353.53 L525.60,356.26 L526.10,359.44 L526.60,363.01 L527.10,366.93 L527.60,371.12 L528.10,375.52 L528.60,380.09 L529.10,384.76 L529.60,389.50 L530.10,394.25 L530.60,398.97 L531.10,403.64 L531.60,408.23 L532.10,412.70 L532.60,417.04 L533.10,421.22 L533.60,425.23 L534.10,429.07 L534.60,432.71 L535.10,436.16 L535.60,439.41 L536.10,442.46 L536.60,445.31 L537.10,447.96 L537.60,450.42 L538.10,452.70 L538.60,454.79 L539.10,456.72 L539.60,458.48 L540.10,460.09 L540.60,461.56 L541.10,462.89 L541.60,464.09 L542.10,465.19 L542.60,466.17 L543.10,467.06 L543.60,467.87 L544.10,468.59 L544.60,469.24 L545.10,469.83 L545.60,470.36 L546.10,470.84 L546.60,471.28 L547.10,471.67 L547.60,472.03 L548.10,472.35 L548.60,472.65 L549.10,472.92 L549.60,473.17 L550.10,473.40 L550.60,473.61 L551.10,473.81 L551.60,474.00 L552.10,474.17 L552.60,474.33 L553.10,474.48 L553.60,474.62 L554.10,474.76 L554.60,474.89 L555.10,475.01 L555.60,475.13 L556.10,475.24 L556.60,475.34 L557.10,475.44 L557.60,475.54 L558.10,475.63 L558.60,475.72" fill="none" stroke="#00ee00" stroke-width="2.6" stroke-linecap="round" stroke-dasharray="0.01 2.2"/>
<path d="M559.00,476.81 L559.50,476.78 L560.00,476.75 L560.50,476.72 L561.00,476.69 L561.50,476.66 L562.00,476.62 L562.50,476.59 L563.00,476.55 L563.50,476.52 L564.00,476.48 L564.50,476.44 L565.00,476.40 L565.50,476.36 L566.00,476.32 L566.50,476.28 L567.00,476.24 L567.50,476.19 L568.00,476.15 L568.50,476.10 L569.00,476.05 L569.50,476.00 L570.00,475.95 L570.50,475.89 L571.00,475.84 L571.50,475.78 L572.00,475.72 L572.50,475.66 L573.00,475.59 L573.50,475.53 L574.00,475.46 L574.50,475.39 L575.00,475.31 L575.50,475.23 L576.00,475.15 L576.50,475.07 L577.00,474.98 L577.50,474.88 L578.00,474.79 L578.50,474.68 L579.00,474.57 L579.50,474.45 L580.00,474.33 L580.50,474.20 L581.00,474.05 L581.50,473.90 L582.00,473.74 L582.50,473.56 L583.00,473.37 L583.50,473.17 L584.00,472.95 L584.50,472.70 L585.00,472.44 L585.50,472.15 L586.00,471.84 L586.50,471.50 L587.00,471.12 L587.50,470.71 L588.00,470.27 L588.50,469.77 L589.00,469.24 L589.50,468.65 L590.00,468.00 L590.50,467.30 L591.00,466.53 L591.50,465.69 L592.00,464.78 L592.50,463.78 L593.00,462.70 L593.50,461.53 L594.00,460.25 L594.50,458.88 L595.00,457.40 L595.50,455.80 L596.00,454.08 L596.50,452.24 L597.00,450.27 L597.50,448.17 L598.00,445.94 L598.50,443.56 L599.00,441.05 L599.50,438.40 L600.00,435.61 L600.50,432.68 L601.00,429.61 L601.50,426.40 L602.00,423.07 L602.50,419.61 L603.00,416.03 L603.50,412.35 L604.00,408.56 L604.50,404.69 L605.00,400.75 L605.50,396.74 L606.00,392.69 L606.50,388.61 L607.00,384.53 L607.50,380.46 L608.00,376.43 L608.50,372.45 L609.00,368.57 L609.50,364.79 L610.00,361.16 L610.50,357.70 L611.00,354.44 L611.50,351.41 L612.00,348.64 L612.50,346.15 L613.00,343.98 L613.50,342.16 L614.00,340.69 L614.50,339.61 L615.00,338.92 L615.50,338.63 L616.00,338.74 L616.50,339.20 L617.00,340.02 L617.50,341.17 L618.00,342.65 L618.50,344.44 L619.00,346.53 L619.50,348.89 L620.00,351.50 L620.50,354.34 L621.00,357.38 L621.50,360.59 L622.00,363.96 L622.50,367.46 L623.00,371.06 L623.50,374.75 L624.00,378.50 L624.50,382.29 L625.00,386.11 L625.50,389.93 L626.00,393.74 L626.50,397.52 L627.00,401.26 L627.50,404.94 L628.00,408.56 L628.50,412.11 L629.00,415.56 L629.50,418.92 L630.00,422.19 L630.50,425.34 L631.00,428.38 L631.50,431.31 L632.00,434.11 L632.50,436.80 L633.00,439.36 L633.50,441.80 L634.00,444.11 L634.50,446.31 L635.00,448.38 L635.50,450.34 L636.00,452.18 L636.50,453.91 L637.00,455.53 L637.50,457.04 L638.00,458.46 L638.50,459.78 L639.00,461.00 L639.50,462.14 L640.00,463.20 L640.50,464.18 L641.00,465.08 L641.50,465.92 L642.00,466.69 L642.50,467.39 L643.00,468.05 L643.50,468.65 L644.00,469.20 L644.50,469.71 L645.00,470.17 L645.50,470.60 L646.00,471.00 L646.50,471.36 L647.00,471.69 L647.50,472.00 L648.00,472.28 L648.50,472.54 L649.00,472.78 L649.50,473.00 L650.00,473.20 L650.50,473.39 L651.00,473.57 L651.50,473.73 L652.00,473.89 L652.50,474.03 L653.00,474.17 L653.50,474.29 L654.00,474.41 L654.50,474.52 L655.00,474.63 L655.50,474.73 L656.00,474.82 L656.50,474.92 L657.00,475.00 L657.50,475.09 L658.00,475.16 L658.50,475.24 L659.00,475.31 L659.50,475.38 L660.00,475.45 L660.50,475.52 L661.00,475.58 L661.50,475.64 L662.00,475.70 L662.50,475.75 L663.00,475.81 L663.50,475.86 L664.00,475.91 L664.50,475.96 L665.00,476.01 L665.50,476.06 L666.00,476.10 L666.50,476.15 L667.00,476.19 L667.50,476.23 L668.00,476.27 L668.50,476.31 L669.00,476.35 L669.50,476.39 L670.00,476.43 L670.50,476.46 L671.00,476.50" fill="none" stroke="#ff0000" stroke-width="2.6" stroke-linecap="round" stroke-dasharray="0.01 2.2"/>
<rect x="412" y="289.3" width="260" height="191.2" fill="none" stroke="#000" stroke-width="3"/>
<line x1="412" y1="480.3" x2="408" y2="480.3" stroke="#000" stroke-width="2"/>
<text transform="translate(405 485.2) scale(1 1.03)" font-size="16.4" text-anchor="end">0.0</text>
<line x1="412" y1="450.90000000000003" x2="408" y2="450.90000000000003" stroke="#000" stroke-width="2"/>
<text transform="translate(405 455.8) scale(1 1.03)" font-size="16.4" text-anchor="end">0.2</text>
<line x1="412" y1="421.5" x2="408" y2="421.5" stroke="#000" stroke-width="2"/>
<text transform="translate(405 426.4) scale(1 1.03)" font-size="16.4" text-anchor="end">0.4</text>
<line x1="412" y1="392.1" x2="408" y2="392.1" stroke="#000" stroke-width="2"/>
<text transform="translate(405 397.0) scale(1 1.03)" font-size="16.4" text-anchor="end">0.6</text>
<line x1="412" y1="362.7" x2="408" y2="362.7" stroke="#000" stroke-width="2"/>
<text transform="translate(405 367.59999999999997) scale(1 1.03)" font-size="16.4" text-anchor="end">0.8</text>
<line x1="412" y1="333.3" x2="408" y2="333.3" stroke="#000" stroke-width="2"/>
<text transform="translate(405 338.2) scale(1 1.03)" font-size="16.4" text-anchor="end">1.0</text>
<line x1="412" y1="303.9" x2="408" y2="303.9" stroke="#000" stroke-width="2"/>
<text transform="translate(405 308.79999999999995) scale(1 1.03)" font-size="16.4" text-anchor="end">1.2</text>
<line x1="412.0" y1="480.5" x2="412.0" y2="484.5" stroke="#000" stroke-width="2"/>
<text transform="translate(412.0 500.6) scale(1 1.03)" font-size="16.4" text-anchor="middle">400</text>
<line x1="498.67" y1="480.5" x2="498.67" y2="484.5" stroke="#000" stroke-width="2"/>
<text transform="translate(498.67 500.6) scale(1 1.03)" font-size="16.4" text-anchor="middle">500</text>
<line x1="585.34" y1="480.5" x2="585.34" y2="484.5" stroke="#000" stroke-width="2"/>
<text transform="translate(585.34 500.6) scale(1 1.03)" font-size="16.4" text-anchor="middle">600</text>
<line x1="672.01" y1="480.5" x2="672.01" y2="484.5" stroke="#000" stroke-width="2"/>
<text transform="translate(672.01 500.6) scale(1 1.03)" font-size="16.4" text-anchor="middle">700</text>
<line x1="455.335" y1="480.5" x2="455.335" y2="482.5" stroke="#000" stroke-width="2"/>
<line x1="542.005" y1="480.5" x2="542.005" y2="482.5" stroke="#000" stroke-width="2"/>
<line x1="628.675" y1="480.5" x2="628.675" y2="482.5" stroke="#000" stroke-width="2"/>
<text transform="translate(543 519.5) scale(1.02 1.07)" font-size="22" text-anchor="middle">Wavelength (nm)</text>
<text transform="translate(377.6 385.3) rotate(-90) scale(1.01 0.95)" font-size="22" text-anchor="middle">PL Intensity (arb.u.)</text>
<text transform="translate(423.5 318) scale(1.02 1.07)" font-size="22" text-anchor="start">Core/shell</text>
<text transform="translate(594 318) scale(1.02 1.07)" font-size="22" text-anchor="start">+ TPP</text>
</svg>
</body></html>
